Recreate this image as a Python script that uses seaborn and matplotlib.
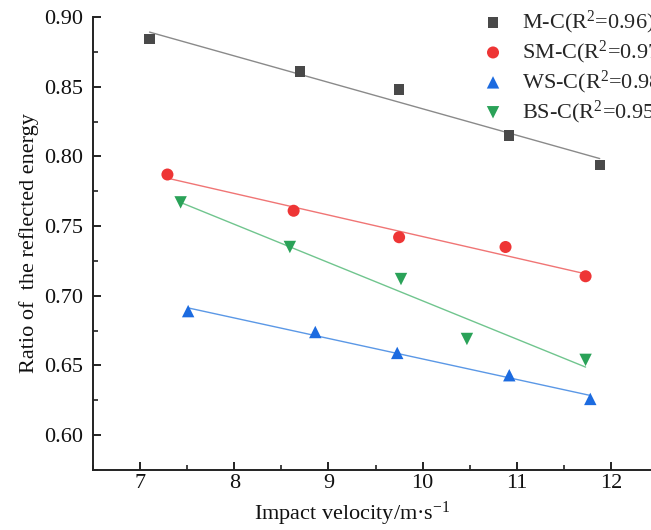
import numpy as np
import pandas as pd
import matplotlib
matplotlib.use("Agg")
import matplotlib.pyplot as plt
from matplotlib.ticker import MultipleLocator
import seaborn as sns

# Measured data: impact velocity (m/s) vs ratio of reflected energy
mc_v = [7.10, 8.70, 9.75, 10.92, 11.88]
mc_r = [0.884, 0.861, 0.848, 0.815, 0.794]
smc_v = [7.29, 8.63, 9.75, 10.88, 11.73]
smc_r = [0.787, 0.761, 0.742, 0.735, 0.714]
wsc_v = [7.51, 8.86, 9.73, 10.92, 11.78]
wsc_r = [0.689, 0.674, 0.659, 0.643, 0.626]
bsc_v = [7.43, 8.59, 9.77, 10.47, 11.73]
bsc_r = [0.767, 0.735, 0.712, 0.669, 0.654]

labels = ["M-C(R$^{2}$=0.96)", "SM-C(R$^{2}$=0.97)",
          "WS-C(R$^{2}$=0.98)", "BS-C(R$^{2}$=0.95)"]

sns.set_theme(style="ticks")
plt.rcParams["font.family"] = ["Liberation Serif", "DejaVu Serif"]
plt.rcParams["mathtext.fontset"] = "custom"
plt.rcParams["mathtext.rm"] = "Liberation Serif"
plt.rcParams["mathtext.it"] = "Liberation Serif:italic"

FS = 16

series = [
    (mc_v, mc_r, labels[0], "s", "#494949", "#8a8a8a", 55),
    (smc_v, smc_r, labels[1], "o", "#ee3535", "#f07575", 75),
    (wsc_v, wsc_r, labels[2], "^", "#1c6be0", "#5b98e6", 80),
    (bsc_v, bsc_r, labels[3], "v", "#2aa258", "#70c58e", 80),
]

fig = plt.figure(figsize=(6.51, 5.30), dpi=100)
ax = fig.add_axes([0.1429, 0.1132, 0.8680, 0.8547])

for v, r, lab, mk, col, lcol, size in series:
    df = pd.DataFrame({"v": v, "r": r})
    sns.regplot(data=df, x="v", y="r", ax=ax, scatter=False, ci=None,
                truncate=True, line_kws={"color": lcol, "lw": 1.0})
    sns.scatterplot(data=df, x="v", y="r", ax=ax, marker=mk, color=col,
                    s=size, edgecolor="none", label=lab, zorder=3)

ax.set_xlim(6.5, 12.5)
ax.set_ylim(0.575, 0.90)
ax.xaxis.set_major_locator(MultipleLocator(1))
ax.xaxis.set_minor_locator(MultipleLocator(0.5))
ax.yaxis.set_major_locator(MultipleLocator(0.05))
ax.yaxis.set_minor_locator(MultipleLocator(0.025))
ax.yaxis.set_major_formatter(plt.FormatStrFormatter("%.2f"))

for side in ["top", "right"]:
    ax.spines[side].set_visible(False)
for side in ["left", "bottom"]:
    ax.spines[side].set_linewidth(1.4)
    ax.spines[side].set_color("#222222")

ax.tick_params(which="major", direction="in", length=6, width=1.4,
               labelsize=FS, colors="#222222", labelcolor="#111111")
ax.tick_params(which="minor", direction="in", length=3.5, width=1.2,
               colors="#222222")
ax.tick_params(axis="y", which="major", pad=7)
ax.tick_params(axis="x", which="major", pad=3)

ax.set_xlabel("Impact velocity/m·s$^{-1}$", fontsize=FS, color="#111111")
ax.xaxis.set_label_coords(0.459, -0.066)
ax.set_ylabel("Ratio of  the reflected energy", fontsize=FS,
              color="#111111", labelpad=3.5)

ax.legend(loc="upper left", bbox_to_anchor=(0.7266, 1.0),
          bbox_transform=fig.transFigure, frameon=False, fontsize=FS,
          handletextpad=0.82, labelspacing=0.12, borderaxespad=0.0,
          handlelength=1.0)

fig.savefig("out.png", dpi=100)
